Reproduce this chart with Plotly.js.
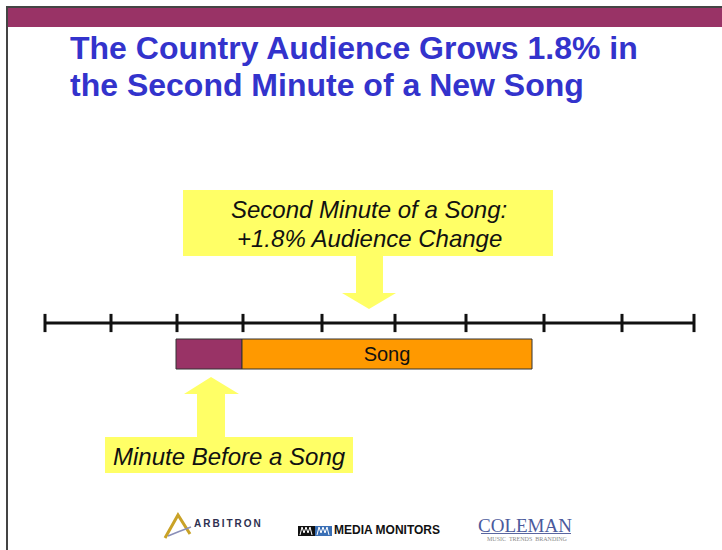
<!DOCTYPE html>
<html>
<head>
<meta charset="utf-8">
<script src="https://cdn.plot.ly/plotly-3.0.1.min.js"></script>
<style>
  html, body { margin: 0; padding: 0; background: #ffffff; }
  #chart { width: 722px; height: 550px; }
</style>
</head>
<body>
<div id="chart"></div>
<script>
// ---- data ----
const titleLines = ['The Country Audience Grows 1.8% in', 'the Second Minute of a New Song'];
// timeline tick positions (chart units along the timeline)
const timelineTicks = [45, 111, 177, 243, 322, 395, 466, 544, 622, 694];
// segments on the timeline
const segmentNames = ['Minute Before a Song', 'Song'];
const segmentStart = [176, 242];
const segmentEnd = [242, 532];
const segmentText = ['', 'Song'];
// callouts
const calloutTop = ['Second Minute of a Song:', '+1.8% Audience Change'];
const calloutBottom = ['Minute Before a Song'];
const sponsorNames = ['ARBITRON', 'MEDIA MONITORS', 'COLEMAN', 'MUSIC  TRENDS  BRANDING'];

// ---- styles ----
const FONT = 'Liberation Sans, Arial, sans-serif';
const SERIF = 'Liberation Serif, Times New Roman, serif';
const MAROON = '#993366';
const ORANGE = '#ff9900';
const YELLOW = '#ffff66';
const BLUE = '#3333cc';

const timelineY = 323;
const barY = 354;

const traces = [
  {
    type: 'bar',
    orientation: 'h',
    y: segmentNames.map(() => barY),
    base: segmentStart,
    x: segmentStart.map((s, i) => segmentEnd[i] - s),
    width: 30,
    marker: { color: [MAROON, ORANGE], line: { color: '#333333', width: 1 } },
    text: segmentText,
    textposition: 'inside',
    insidetextanchor: 'middle',
    textfont: { family: FONT, size: 20, color: '#111111' },
    hoverinfo: 'skip',
    name: 'segments'
  },
  {
    type: 'scatter',
    mode: 'lines+markers',
    x: timelineTicks,
    y: timelineTicks.map(() => timelineY),
    line: { color: '#111111', width: 3 },
    marker: { symbol: 'line-ns-open', size: 13, line: { color: '#111111', width: 3 } },
    hoverinfo: 'skip',
    name: 'timeline'
  }
];

function rect(x0, y0, x1, y1, fill, lineColor, lw) {
  return { type: 'rect', xref: 'x', yref: 'y', x0, y0, x1, y1, fillcolor: fill,
           line: { color: lineColor || fill, width: lw === undefined ? 0 : lw }, layer: 'below' };
}
function path(d, fill, lineColor, lw) {
  return { type: 'path', xref: 'x', yref: 'y', path: d, fillcolor: fill || 'rgba(0,0,0,0)',
           line: { color: lineColor || 'rgba(0,0,0,0)', width: lw || 0 }, layer: 'below' };
}

const shapes = [
  // slide frame + header band
  rect(8, 8, 722, 27, MAROON),
  { type: 'line', xref: 'x', yref: 'y', x0: 6, y0: 7, x1: 722, y1: 7, line: { color: '#444444', width: 2 } },
  { type: 'line', xref: 'x', yref: 'y', x0: 7, y0: 7, x1: 7, y1: 550, line: { color: '#444444', width: 2 } },
  // top callout
  rect(183, 190, 553, 256, YELLOW),
  path('M356,255 L383,255 L383,293 L396,293 L369,309 L342,293 L356,293 Z', YELLOW),
  // bottom callout
  rect(105, 437, 353, 473, YELLOW),
  path('M197,438 L225,438 L225,394 L239,394 L211,377 L184,394 L197,394 Z', YELLOW),
  // Arbitron mark
  path('M165,538 L178,515 L190,534', null, '#c9a227', 3),
  path('M168,536 Q180,531 191,527', null, '#8a8fb8', 1.5),
  // Media Monitors mark
  rect(298, 526, 315, 536, '#111111'),
  rect(315, 526, 332, 536, '#3a6fb5'),
  path('M300,535 L302,527 L304,533 L306,527 L308,533 L310,527 L312,535', null, '#ffffff', 1),
  path('M317,535 L319,527 L321,533 L323,527 L325,533 L327,527 L329,535', null, '#ffffff', 1),
  // Coleman underline
  { type: 'line', xref: 'x', yref: 'y', x0: 481, y0: 533.5, x1: 571, y1: 533.5, line: { color: '#5a66a0', width: 1 } }
];

const annotations = [
  { text: '<b>' + titleLines[0] + '</b>', x: 69, y: 47.5, xanchor: 'left', yanchor: 'middle',
    font: { family: FONT, size: 32, color: BLUE } },
  { text: '<b>' + titleLines[1] + '</b>', x: 69, y: 84.5, xanchor: 'left', yanchor: 'middle',
    font: { family: FONT, size: 32, color: BLUE } },
  { text: '<i>' + calloutTop[0] + '</i>', x: 369, y: 209, xanchor: 'center', yanchor: 'middle',
    font: { family: FONT, size: 24, color: '#111111' } },
  { text: '<i>' + calloutTop[1] + '</i>', x: 369, y: 238, xanchor: 'center', yanchor: 'middle',
    font: { family: FONT, size: 24, color: '#111111' } },
  { text: '<i>' + calloutBottom[0] + '</i>', x: 229, y: 456, xanchor: 'center', yanchor: 'middle',
    font: { family: FONT, size: 24, color: '#111111' } },
  { text: '<b>' + sponsorNames[0].split('').join('\u2009') + '</b>', x: 193, y: 523, xanchor: 'left', yanchor: 'middle',
    font: { family: FONT, size: 10, color: '#2e3050' } },
  { text: '<b>' + sponsorNames[1] + '</b>', x: 333, y: 530, xanchor: 'left', yanchor: 'middle',
    font: { family: FONT, size: 12, color: '#111111' } },
  { text: sponsorNames[2], x: 525, y: 525, xanchor: 'center', yanchor: 'middle',
    font: { family: SERIF, size: 19, color: '#4b5a9c' } },
  { text: sponsorNames[3], x: 527, y: 539, xanchor: 'center', yanchor: 'middle',
    font: { family: SERIF, size: 6, color: '#888888' } }
].map(a => Object.assign({ xref: 'x', yref: 'y', showarrow: false, borderpad: 0 }, a));

const layout = {
  width: 722,
  height: 550,
  margin: { l: 0, r: 0, t: 0, b: 0, pad: 0 },
  paper_bgcolor: '#ffffff',
  plot_bgcolor: '#ffffff',
  showlegend: false,
  hovermode: false,
  barmode: 'overlay',
  xaxis: { range: [0, 722], visible: false, fixedrange: true },
  yaxis: { range: [550, 0], visible: false, fixedrange: true },
  shapes: shapes,
  annotations: annotations
};

Plotly.newPlot('chart', traces, layout, { displayModeBar: false, staticPlot: true });
</script>
</body>
</html>
